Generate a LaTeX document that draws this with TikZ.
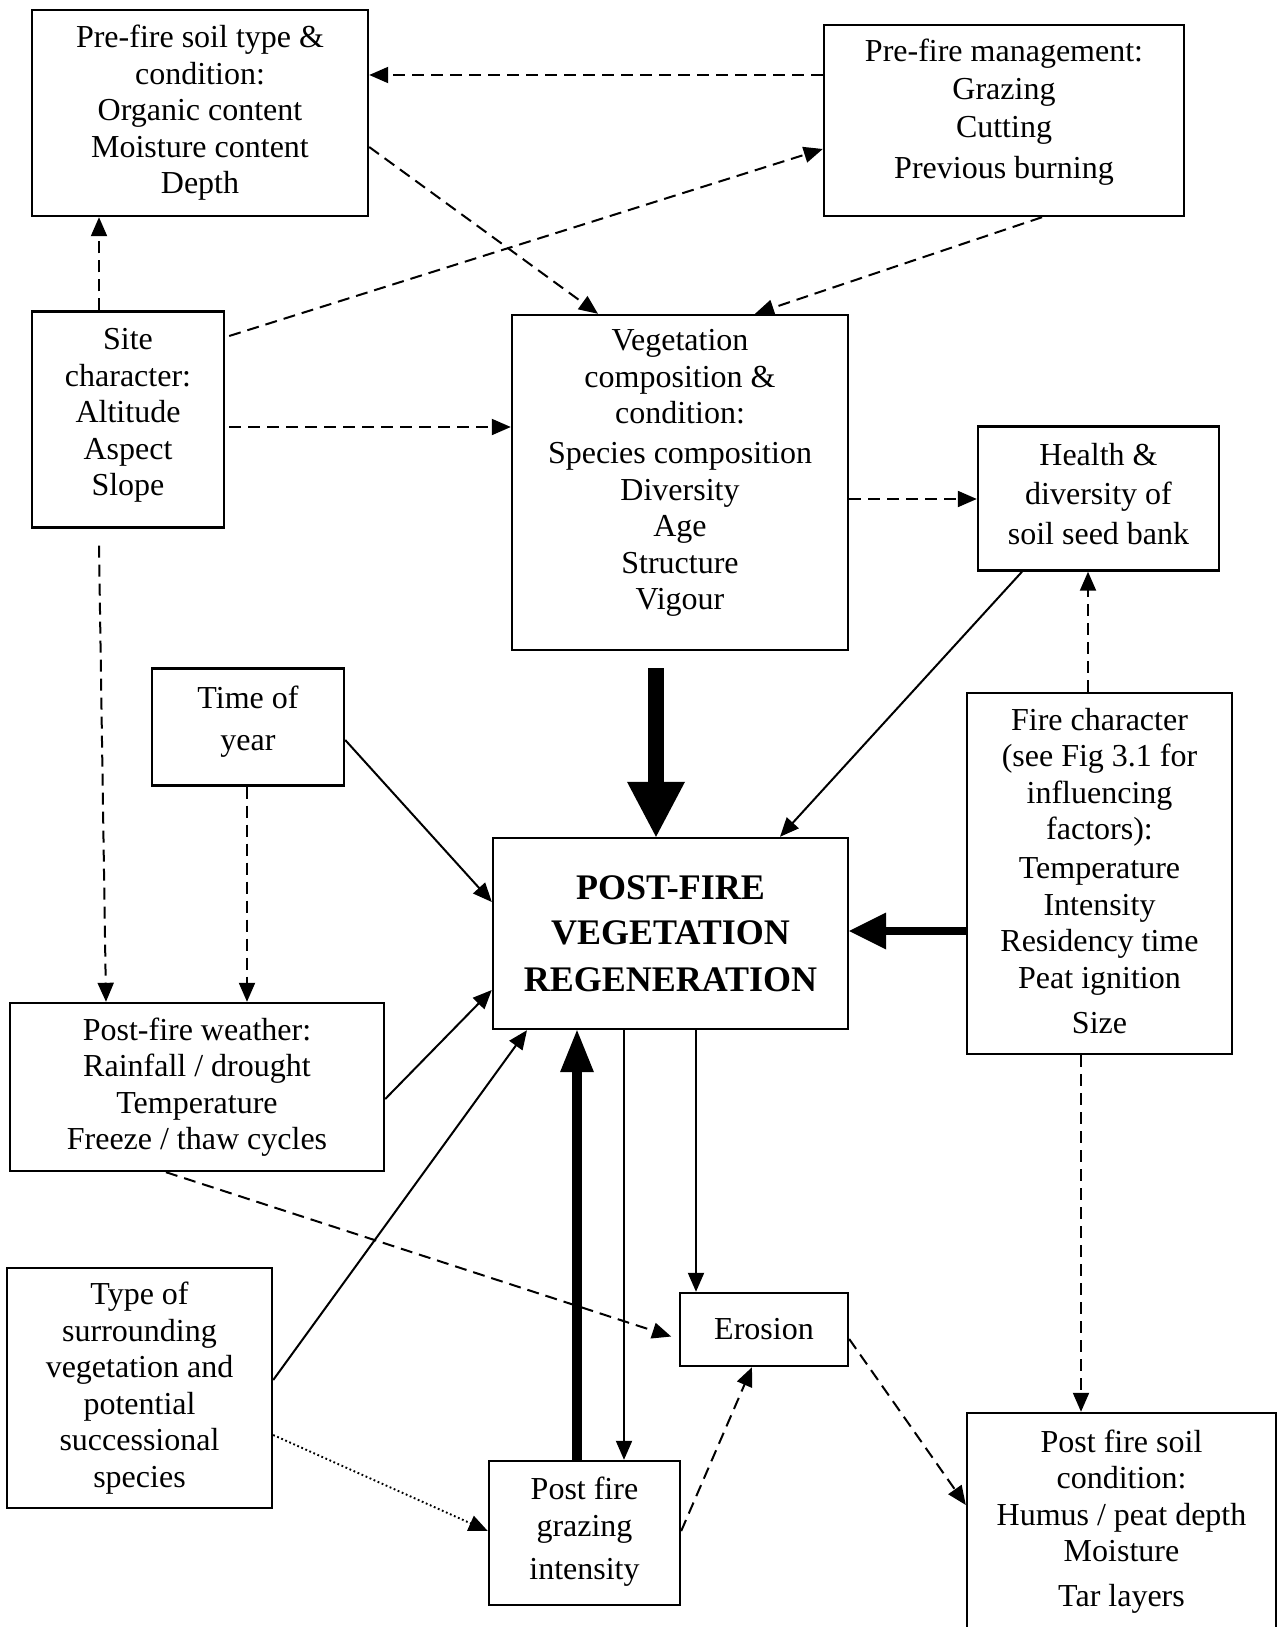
\documentclass[tikz,border=0pt]{standalone}
\usepackage{fontspec}
\setmainfont{Liberation Serif}
\usetikzlibrary{arrows.meta,calc}
\newcommand{\dfont}{\fontsize{32}{36.5}\selectfont}
\newcommand{\bigfont}{\fontsize{36}{45}\selectfont\bfseries}
\begin{document}
\begin{tikzpicture}[x=1pt,y=-1pt,
  box/.style={draw, line width=2.4pt, inner sep=0pt, align=center, font=\dfont},
  txt/.style={align=center, inner sep=0pt, font=\dfont},
  con/.style={line width=2pt, -{Triangle[length=19pt,width=16pt]}},
  dsh/.style={con, dash pattern=on 12pt off 7pt},
  dotl/.style={line width=1.9pt, dash pattern=on 1.8pt off 2.6pt, -{Triangle[length=19pt,width=16pt]}},
]
\fill[white] (0,0) rectangle (1284,1627);
\useasboundingbox (0,0) rectangle (1284,1627);

% boxes
\node[box, minimum width=336pt, minimum height=206pt] (soil) at (200,113)
  {Pre-fire soil type \&\\condition:\\Organic content\\Moisture content\\Depth};
\node[box, minimum width=360pt, minimum height=191pt] (mgmt) at (1004,120.5) {};
\node[txt] (mgmtT) at (1004,112) {Pre-fire management:\\[1.5pt]Grazing\\[1.5pt]Cutting\\[5pt]Previous burning};
\node[box, minimum width=192pt, minimum height=216pt] (site) at (128,419.5) {};
\node[txt] (siteT) at (128,415.5) {Site\\character:\\Altitude\\Aspect\\Slope};
\node[box, minimum width=336pt, minimum height=335pt] (veg) at (680,482.5) {};
\node[txt] (vegT) at (680,473) {Vegetation\\composition \&\\condition:\\[3.5pt]Species composition\\Diversity\\Age\\Structure\\Vigour};
\node[box, minimum width=241pt, minimum height=144pt] (health) at (1098.5,498.5) {};
\node[txt] (healthT) at (1098.5,494) {Health \&\\[3pt]diversity of\\[3pt]soil seed bank};
\node[box, minimum width=192pt, minimum height=117pt] (time) at (248,727) {};
\node[txt] (timeT) at (248,721.5) {Time of\\[6pt]year};
\node[box, minimum width=355pt, minimum height=191pt, font=\bigfont] (post) at (670.5,933.5)
  {POST-FIRE\\VEGETATION\\[2pt]REGENERATION};
\node[box, minimum width=265pt, minimum height=361pt] (fire) at (1099.5,873.5) {};
\node[txt] (fireT) at (1099.5,871) {Fire character\\(see Fig 3.1 for\\influencing\\factors):\\[2.5pt]Temperature\\Intensity\\Residency time\\Peat ignition\\[8.5pt]Size};
\node[box, minimum width=374pt, minimum height=168pt] (weather) at (197,1087)
  {Post-fire weather:\\Rainfall / drought\\Temperature\\Freeze / thaw cycles};
\node[box, minimum width=265pt, minimum height=240pt] (type) at (139.5,1388)
  {Type of\\surrounding\\vegetation and\\potential\\successional\\species};
\node[box, minimum width=168pt, minimum height=73pt] (erosion) at (764,1329.5) {Erosion};
\node[box, minimum width=191pt, minimum height=144pt] (grazing) at (584.5,1533) {};
\node[txt] (grazingT) at (584.5,1531.5) {Post fire\\grazing\\[6.5pt]intensity};
\node[box, minimum width=309pt, minimum height=237pt] (soil2) at (1121.5,1531.5) {};
\node[txt] (soil2T) at (1121.5,1521.5) {Post fire soil\\condition:\\Humus / peat depth\\Moisture\\[8.5pt]Tar layers};

% dashed connectors
\draw[dsh] (mgmt.west |- 0,75) -- (soil.east |- 0,75);
\draw[dsh] ($(site.east |- 0,336)+(4,0)$) -- (mgmt.west |- 0,149);
\draw[dsh] (soil.east |- 0,147) -- (veg.north -| 598,0);
\draw[dsh] (mgmt.south -| 1042,0) -- (veg.north -| 755,0);
\draw[dsh] (site.north -| 99,0) -- (soil.south -| 99,0);
\draw[dsh] ($(site.east |- 0,427)+(4,0)$) -- (veg.west |- 0,427);
\draw[dsh] (veg.east |- 0,499) -- (health.west |- 0,499);
\draw[dsh] ($(site.south -| 99,0)+(0,17)$) -- (weather.north -| 106,0);
\draw[dsh] (time.south -| 247,0) -- (weather.north -| 247,0);
\draw[dsh, shorten >=8pt] (weather.south -| 166,0) -- (erosion.west |- 0,1339);
\draw[dsh] (grazing.east |- 0,1531) -- (erosion.south -| 752,0);
\draw[dsh] (erosion.east |- 0,1339) -- (soil2.west |- 0,1505);
\draw[dsh] (fire.south -| 1081,0) -- (soil2.north -| 1081,0);
\draw[dsh] (fire.north -| 1088,0) -- (health.south -| 1088,0);
\draw[dotl] (type.east |- 0,1435) -- (grazing.west |- 0,1531);

% solid connectors
\draw[con] (time.east |- 0,740) -- (post.west |- 0,902);
\draw[con] (weather.east |- 0,1099) -- (post.west |- 0,990);
\draw[con] (type.east |- 0,1380) -- (post.south -| 527,0);
\draw[con] (health.south -| 1022,0) -- (post.north -| 780,0);
\draw[con] (post.south -| 624,0) -- (grazing.north -| 624,0);
\draw[con] (post.south -| 696,0) -- (erosion.north -| 696,0);

% thick arrows
\draw[line width=16.5pt, -{Triangle[length=55pt,width=58pt,line width=0pt 0 0]}]
  ($(veg.south -| 656,0)+(0,17)$) -- (post.north -| 656,0);
\draw[line width=8.5pt, -{Triangle[length=37pt,width=37pt,line width=0pt 0 0]}]
  (fire.west |- 0,931) -- (post.east |- 0,931);
\draw[line width=9.5pt, -{Triangle[length=42pt,width=34pt,line width=0pt 0 0]}]
  (grazing.north -| 577,0) -- (post.south -| 577,0);
\end{tikzpicture}
\end{document}
